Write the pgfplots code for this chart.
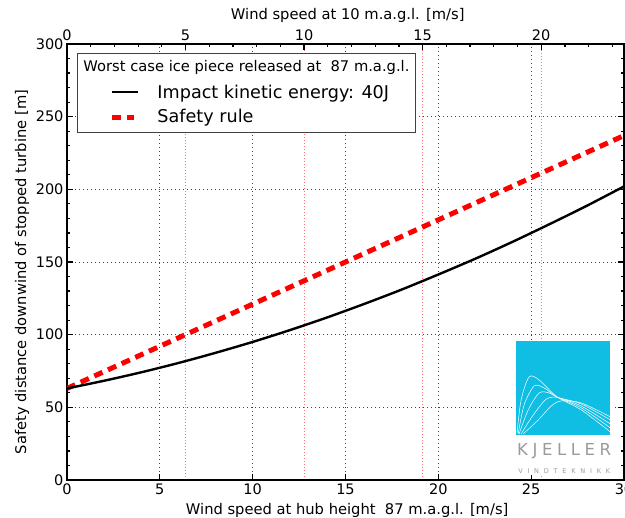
\documentclass[border=0pt]{standalone}
\usepackage{pgfplots}
\pgfplotsset{compat=1.18}
\usepackage{fontspec}
\setmainfont{DejaVu Sans}
\definecolor{logoblue}{RGB}{16,190,228}
\definecolor{logogray}{RGB}{155,155,155}

\pgfplotstableread{
x y
0 63.0
2 68.3
4 74.1
6 80.5
8 87.5
10 95.0
12 103.1
14 111.8
16 121.1
18 130.9
20 141.4
22 152.3
24 163.9
26 176.1
28 188.7
30 202.0
}\energy

\pgfplotstableread{
x y
0 63
30 237
}\safety

\begin{document}
\begin{tikzpicture}
\pgfplotsset{
  every axis/.append style={
    /pgf/number format/assume math mode=true,
    tick label style={font=\fontsize{14.5}{16}\selectfont},
    label style={font=\fontsize{14.7}{16}\selectfont},
    at={(0,0)}, anchor=south west,
    width=557pt, height=436pt, scale only axis,
    axis line style={line width=2.2pt},
    major tick length=6pt, minor tick length=3pt,
    every tick/.style={black, line width=1.2pt},
  }
}
% top axis (wind at 10 m)
\begin{axis}[
  xmin=0, xmax=23.4925, ymin=0, ymax=300,
  hide y axis,
  xtick pos=right, xticklabel pos=right,
  xtick={0,5,10,15,20}, minor xtick={1,2,3,4,6,7,8,9,11,12,13,14,16,17,18,19,21,22,23},
  xmajorgrids,
  major grid style={red!55, dash pattern=on 1pt off 2pt, line width=0.6pt},
  xlabel={Wind speed at 10 m.a.g.l. [m/s]},
  xlabel style={at={(axis description cs:0.504,1.0665)}, anchor=center},
]
\end{axis}
% main axis
\begin{axis}[
  xmin=0, xmax=30, ymin=0, ymax=300,
  xtick={0,5,...,30}, ytick={0,50,...,300},
  minor ytick={10,20,30,40,60,70,80,90,110,120,130,140,160,170,180,190,210,220,230,240,260,270,280,290},
  xtick pos=left, ytick pos=both, yticklabel pos=left,
  grid=major,
  major grid style={black!75, dash pattern=on 1pt off 3pt, line width=0.7pt},
  xlabel={Wind speed at hub height\ \ 87 m.a.g.l. [m/s]},
  ylabel={Safety distance downwind of stopped turbine [m]},
  xlabel style={at={(axis description cs:0.503,-0.0688)}, anchor=center},
  ylabel style={at={(axis description cs:-0.0808,0.477)}, anchor=center},
]
\addplot[red, line width=5pt, dash pattern=on 9pt off 6pt] table {\safety};
\addplot[black, line width=2.4pt, smooth] table {\energy};

% logo
\fill[white] (axis cs:24.05,3.5) rectangle (axis cs:29.45,96.5);
\fill[logoblue] (axis cs:24.19,31) rectangle (axis cs:29.27,95.7);
\addplot[white, line width=0.5pt, smooth] coordinates {(24.24,32.3) (24.46,55.1) (24.89,70.9) (25.43,68.8) (26.40,57.1) (27.70,48.2) (29.27,33.0)};
\addplot[white, line width=0.5pt, smooth] coordinates {(24.30,31.7) (24.62,51.6) (25.16,64.7) (25.70,63.3) (26.40,57.1) (27.70,49.6) (29.27,35.8)};
\addplot[white, line width=0.5pt, smooth] coordinates {(24.35,31.7) (24.84,48.2) (25.43,59.9) (25.97,59.9) (26.40,57.1) (27.70,50.9) (29.27,38.5)};
\addplot[white, line width=0.5pt, smooth] coordinates {(24.46,31.7) (25.11,44.7) (25.76,55.1) (26.19,57.1) (26.51,56.4) (27.70,52.3) (29.27,41.3)};
\addplot[white, line width=0.5pt, smooth] coordinates {(24.57,31.7) (25.38,41.3) (26.08,50.9) (26.62,54.4) (27.70,53.0) (29.27,43.4)};
\node[logogray, font=\fontsize{16.5}{18}\selectfont, inner sep=0pt] at (axis cs:26.78,19.6)
  {K\hspace{4.6pt}J\hspace{4.6pt}E\hspace{4.6pt}L\hspace{4.6pt}L\hspace{4.6pt}E\hspace{4.6pt}R};
\node[logogray, font=\fontsize{6.5}{7}\selectfont, inner sep=0pt] at (axis cs:26.78,6.3)
  {V\hspace{4.8pt}I\hspace{4.8pt}N\hspace{4.8pt}D\hspace{4.8pt}T\hspace{4.8pt}E\hspace{4.8pt}K\hspace{4.8pt}N\hspace{4.8pt}I\hspace{4.8pt}K\hspace{4.8pt}K};

% legend
\node[draw=black!75, line width=1pt, fill=white, anchor=north west, inner xsep=6pt, inner ysep=0pt,
      xshift=10pt, yshift=-9pt] at (rel axis cs:0,1) {%
  \def\arraystretch{0}%
  \begin{tabular}{@{}l@{}}
  \rule[-4pt]{0pt}{22pt}{\fontsize{14.7}{16}\selectfont Worst case ice piece released at\ \ 87 m.a.g.l.}\\
  \rule[-4pt]{0pt}{27pt}\hspace{29pt}\rule[5pt]{26pt}{2.4pt}\hspace{19pt}{\fontsize{17.6}{20}\selectfont Impact kinetic energy: 40J}\\
  \rule[-10pt]{0pt}{30pt}\hspace{29pt}\textcolor{red}{\rule[2.8pt]{9pt}{5pt}}\hspace{6pt}\textcolor{red}{\rule[2.8pt]{7pt}{5pt}}\hspace{23pt}{\fontsize{17.6}{20}\selectfont Safety rule}
  \end{tabular}};
\end{axis}
\pgfresetboundingbox
\useasboundingbox (-67pt,-38pt) rectangle (558pt,480pt);
\end{tikzpicture}
\end{document}
